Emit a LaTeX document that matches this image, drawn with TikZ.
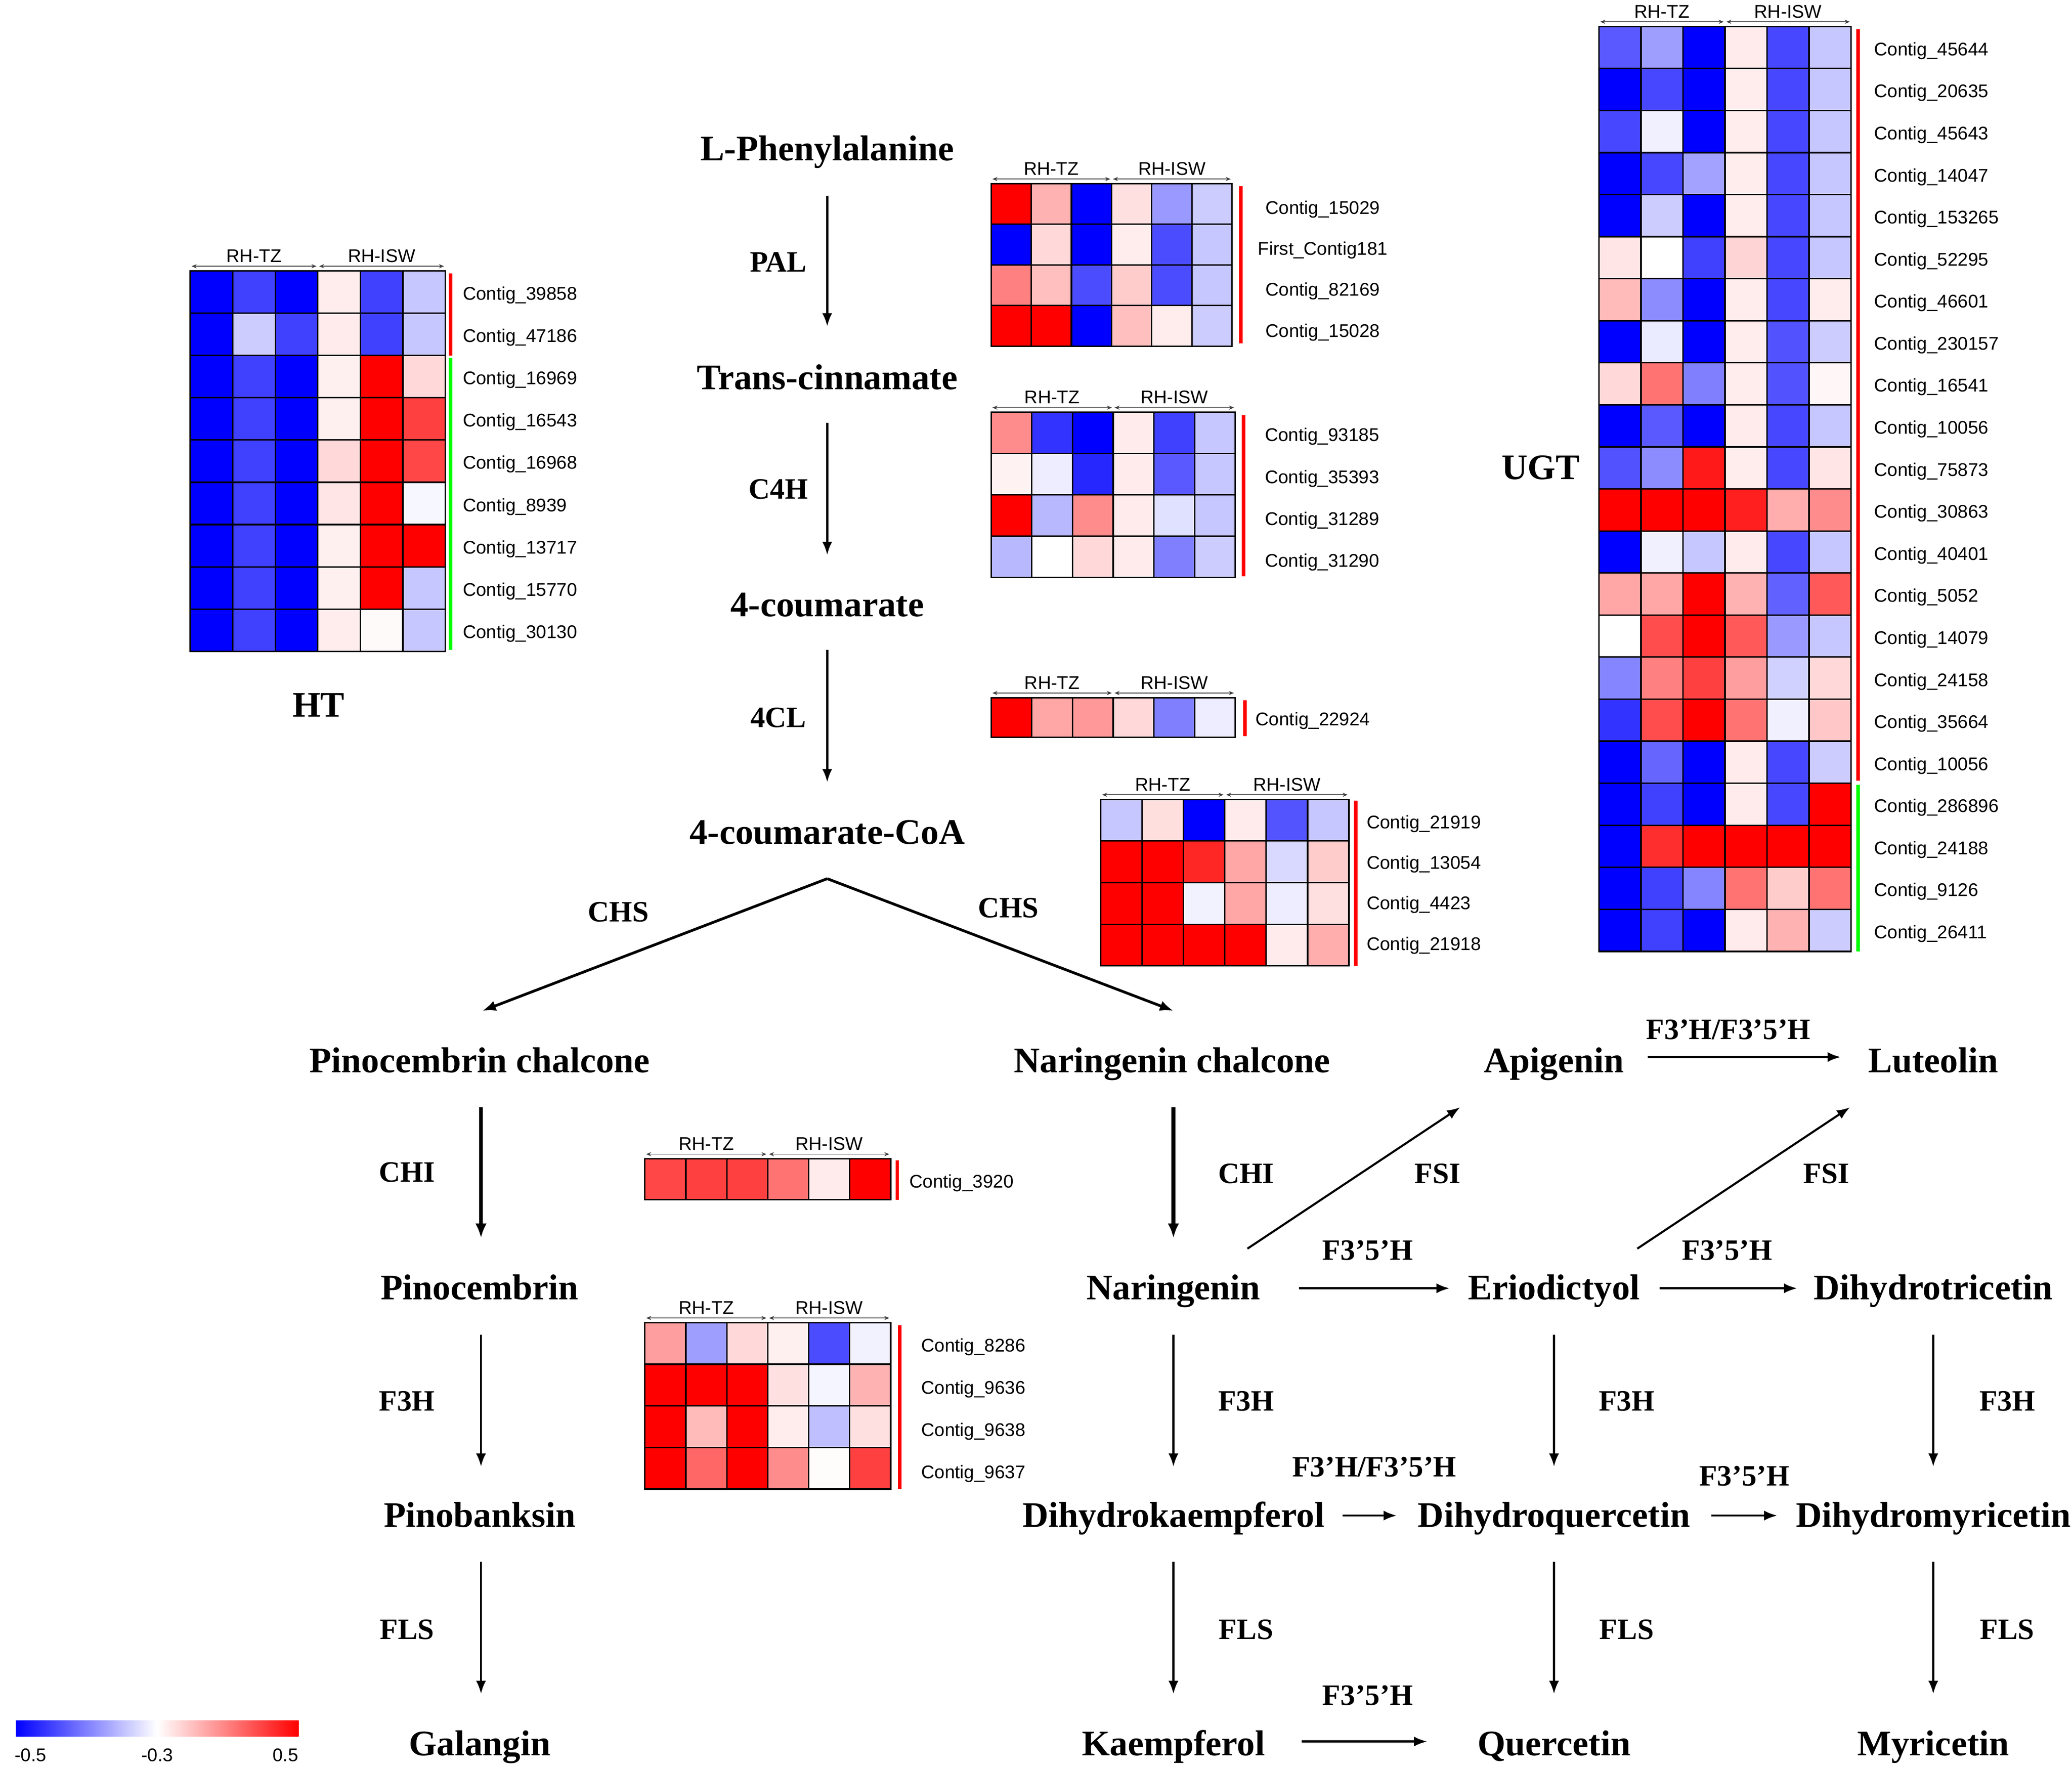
\documentclass[tikz,border=0pt]{standalone}
\usepackage{fontspec}
\setmainfont{Liberation Serif}
\newfontfamily\arialf{Liberation Sans}
\usetikzlibrary{arrows.meta,calc}
\newcommand\hmap[5]{%
 \foreach \hmrow [count=\hmi] in {#5} {
   \foreach \hmv [count=\hmj] in \hmrow {
     \pgfmathtruncatemacro\hma{abs(\hmv)}
     \ifnum\hmv<0 \def\hmc{blue!\hma!white}\else\def\hmc{red!\hma!white}\fi
     \filldraw[fill=\hmc,draw=black,line width=0.9pt] ({#1+(\hmj-1)*#3},{#2+(\hmi-1)*#4}) rectangle ++(#3,#4);
   }
 }
 \draw[hdr] (#1+1,#2-3.5) -- (#1+3*#3-1,#2-3.5);
 \draw[hdr] (#1+3*#3+1,#2-3.5) -- (#1+6*#3-1,#2-3.5);
 \node[hdl] at (#1+1.5*#3,#2-11.5) {RH-TZ};
 \node[hdl] at (#1+4.5*#3,#2-11.5) {RH-ISW};
}
\tikzset{
 cpd/.style={font=\bfseries\fontsize{22.5}{26}\selectfont, inner sep=0pt, text height=19pt, text depth=4.7pt},
 enz/.style={font=\bfseries\fontsize{18.5}{22}\selectfont, inner sep=0pt, text height=12.5pt, text depth=0pt},
 lab/.style={font=\arialf\fontsize{11.5}{13}\selectfont, inner sep=0pt, anchor=west, text height=10pt, text depth=0pt},
 labc/.style={lab, anchor=center},
 hdl/.style={font=\arialf\fontsize{11.5}{13}\selectfont, inner sep=0pt, text height=8.3pt, text depth=0pt},
 hdr/.style={{Stealth[length=1.1mm,width=0.9mm]}-{Stealth[length=1.1mm,width=0.9mm]}, line width=0.5pt, draw=black!75},
 arr/.style={-{Latex[length=2.9mm,width=2.2mm]}, line width=1.3pt},
 brarr/.style={-{Latex[length=3mm,width=2.3mm]}, line width=1.7pt},
 tharr/.style={-{Latex[length=3.2mm,width=2.5mm]}, line width=2.4pt},
 rbar/.style={draw=red, line width=2.2pt},
 gbar/.style={draw=green, line width=2.2pt},
}
\begin{document}
\begin{tikzpicture}[x=0.02909cm,y=-0.02909cm]
\useasboundingbox[fill=white] (0,0) rectangle (1568,1337.8);

% ---------- pathway compounds ----------
\node[cpd] (phe) at (626,113) {L-Phenylalanine};
\node[cpd] (cin) at (626,286) {Trans-cinnamate};
\node[cpd] (cou) at (626,458) {4-coumarate};
\node[cpd] (coa) at (626,630) {4-coumarate-CoA};
\node[cpd] (pch) at (363,803) {Pinocembrin chalcone};
\node[cpd] (nch) at (887,803) {Naringenin chalcone};
\node[cpd] (api) at (1176,803) {Apigenin};
\node[cpd] (lut) at (1463,803) {Luteolin};
\node[cpd] (pin) at (363,975) {Pinocembrin};
\node[cpd] (nar) at (888,975) {Naringenin};
\node[cpd] (eri) at (1176,975) {Eriodictyol};
\node[cpd] (dht) at (1463,975) {Dihydrotricetin};
\node[cpd] (pba) at (363,1147) {Pinobanksin};
\node[cpd] (dhk) at (888,1147) {Dihydrokaempferol};
\node[cpd] (dhq) at (1176,1147) {Dihydroquercetin};
\node[cpd] (dhm) at (1463,1147) {Dihydromyricetin};
\node[cpd] (gal) at (363,1320) {Galangin};
\node[cpd] (kae) at (888,1320) {Kaempferol};
\node[cpd] (que) at (1176,1320) {Quercetin};
\node[cpd] (myr) at (1463,1320) {Myricetin};
\node[cpd] (htl) at (241,534) {HT};
\node[cpd] (ugtl) at (1166,354) {UGT};

% ---------- enzymes ----------
\node[enz] (e1) at (589,198) {PAL};
\node[enz] (e2) at (589,370) {C4H};
\node[enz] (e3) at (589,543) {4CL};
\node[enz] (e4) at (468,690) {CHS};
\node[enz] (e5) at (763,687) {CHS};
\node[enz] (e6) at (1308,779) {F3’H/F3’5’H};
\node[enz] (e7) at (308,887) {CHI};
\node[enz] (e8) at (943,888) {CHI};
\node[enz] (e9) at (1088,888) {FSI};
\node[enz] (e10) at (1382,888) {FSI};
\node[enz] (e11) at (1035,946) {F3’5’H};
\node[enz] (e12) at (1307,946) {F3’5’H};
\node[enz] (e13) at (308,1060) {F3H};
\node[enz] (e14) at (943,1060) {F3H};
\node[enz] (e15) at (1231,1060) {F3H};
\node[enz] (e16) at (1519,1060) {F3H};
\node[enz] (e17) at (1040,1110) {F3’H/F3’5’H};
\node[enz] (e18) at (1320,1117) {F3’5’H};
\node[enz] (e19) at (308,1233) {FLS};
\node[enz] (e20) at (943,1233) {FLS};
\node[enz] (e21) at (1231,1233) {FLS};
\node[enz] (e22) at (1519,1233) {FLS};
\node[enz] (e23) at (1035,1283) {F3’5’H};

% ---------- arrows ----------
\draw[arr] ($(phe)+(0,35)$) -- ($(cin)+(0,-39)$);
\draw[arr] ($(cin)+(0,34)$) -- ($(cou)+(0,-38)$);
\draw[arr] ($(cou)+(0,34)$) -- ($(coa)+(0,-38)$);
\draw[brarr] ($(coa)+(0,35)$) -- ($(pch)+(2,-38)$);
\draw[brarr] ($(coa)+(0,35)$) -- ($(nch)+(1,-38)$);
\draw[tharr] ($(pch)+(1,35)$) -- ($(pin)+(1,-38)$);
\draw[tharr] ($(nch)+(1,35)$) -- ($(nar)+(0,-38)$);
\draw[arr] ($(pin)+(1,35)$) -- ($(pba)+(1,-37)$);
\draw[arr] ($(pba)+(1,35)$) -- ($(gal)+(1,-38)$);
\draw[arr] ($(nar)+(0,35)$) -- ($(dhk)+(0,-37)$);
\draw[arr] ($(dhk)+(0,35)$) -- ($(kae)+(0,-38)$);
\draw[arr] ($(eri)+(0,35)$) -- ($(dhq)+(0,-37)$);
\draw[arr] ($(dhq)+(0,35)$) -- ($(que)+(0,-38)$);
\draw[arr] ($(dht)+(0,35)$) -- ($(dhm)+(0,-37)$);
\draw[arr] ($(dhm)+(0,35)$) -- ($(myr)+(0,-38)$);
\draw[arr] ($(nar)+(56,-30)$) -- ($(api)+(-71,35)$);
\draw[arr] ($(eri)+(63,-30)$) -- ($(lut)+(-63,35)$);
\draw[arr] ($(api)+(71,-3)$) -- ($(lut)+(-70,-3)$);
\draw[arr] ($(nar)+(95,0)$) -- ($(eri)+(-79,0)$);
\draw[arr] ($(eri)+(80,0)$) -- ($(dht)+(-103,0)$);
\draw[arr] ($(dhk)+(128,0)$) -- ($(dhq)+(-119,0)$);
\draw[arr] ($(dhq)+(119,0)$) -- ($(dhm)+(-118,0)$);
\draw[arr] ($(kae)+(97,-2)$) -- ($(que)+(-96,-2)$);

% ---------- HT heatmap ----------
\hmap{144}{205}{32.17}{32}{
{-100,-75,-100,7,-75,-22},
{-100,-20,-75,8,-75,-22},
{-100,-75,-100,6,100,15},
{-100,-75,-100,6,100,75},
{-100,-75,-100,15,100,72},
{-100,-75,-100,10,100,-3},
{-100,-75,-100,6,100,100},
{-100,-75,-100,6,100,-22},
{-100,-75,-100,7,2,-22}}
\draw[rbar] (341,207) -- (341,269);
\draw[gbar] (341,271) -- (341,492);
\foreach \t [count=\k from 0] in {39858,47186,16969,16543,16968,8939,13717,15770,30130}
  \node[lab] (ht\k) at (350,221+32*\k) {Contig\_\t};

% ---------- PAL heatmap ----------
\hmap{750}{139}{30.4}{30.75}{
{100,30,-100,12,-40,-20},
{-100,15,-100,7,-70,-22},
{50,25,-70,20,-70,-22},
{100,100,-100,25,7,-20}}
\draw[rbar] (939,141) -- (939,260);
\node[labc] (pal1) at (1001,156) {Contig\_15029};
\node[labc] (pal2) at (1001,187) {First\_Contig181};
\node[labc] (pal3) at (1001,218) {Contig\_82169};
\node[labc] (pal4) at (1001,249) {Contig\_15028};

% ---------- C4H heatmap ----------
\hmap{750}{312}{30.8}{31.25}{
{45,-80,-100,8,-75,-22},
{5,-7,-85,8,-65,-22},
{100,-28,45,8,-12,-22},
{-28,0,15,8,-50,-20}}
\draw[rbar] (941,314) -- (941,436);
\foreach \t [count=\k from 0] in {93185,35393,31289,31290}
  \node[lab] (c4h\k) at (957,328+31.7*\k) {Contig\_\t};

% ---------- 4CL heatmap ----------
\hmap{750}{528}{30.8}{30}{{100,35,40,15,-50,-7}}
\draw[rbar] (942,530) -- (942,557);
\node[lab] (fcl) at (950,543) {Contig\_22924};

% ---------- CHS heatmap ----------
\hmap{833}{605}{31.3}{31.5}{
{-22,13,-100,8,-67,-22},
{100,100,85,35,-15,20},
{100,100,-5,35,-7,12},
{100,100,100,100,8,32}}
\draw[rbar] (1026,606) -- (1026,731);
\foreach \t [count=\k from 0] in {21919,13054,4423,21918}
  \node[lab] (chs\k) at (1034,621+30.7*\k) {Contig\_\t};

% ---------- UGT heatmap ----------
\hmap{1210}{20}{31.8}{31.82}{
{-65,-38,-100,8,-72,-22},
{-100,-72,-100,7,-72,-22},
{-72,-6,-100,7,-72,-22},
{-100,-72,-36,7,-72,-22},
{-100,-20,-100,7,-72,-22},
{10,0,-75,17,-72,-22},
{27,-45,-100,7,-72,7},
{-100,-8,-100,7,-68,-20},
{15,55,-50,7,-68,3},
{-100,-65,-100,8,-72,-22},
{-68,-45,90,7,-72,10},
{100,100,100,88,32,45},
{-100,-6,-22,8,-72,-22},
{35,35,100,30,-62,65},
{0,70,100,65,-40,-22},
{-48,50,75,38,-18,15},
{-80,70,100,55,-6,22},
{-100,-60,-100,8,-72,-20},
{-100,-75,-100,8,-72,100},
{-100,82,100,100,100,100},
{-100,-75,-48,55,20,55},
{-100,-75,-100,8,30,-20}}
\draw[rbar] (1406,22) -- (1406,591);
\draw[gbar] (1406,594) -- (1406,720);
\foreach \t [count=\k from 0] in {45644,20635,45643,14047,153265,52295,46601,230157,16541,10056,75873,30863,40401,5052,14079,24158,35664,10056,286896,24188,9126,26411}
  \node[lab] (ugt\k) at (1418,36+31.82*\k) {Contig\_\t};

% ---------- CHI heatmap ----------
\hmap{488}{877}{31}{31}{{72,75,75,55,8,100}}
\draw[rbar] (679,878) -- (679,908);
\node[lab] (chi1) at (688,893) {Contig\_3920};

% ---------- F3H heatmap ----------
\hmap{488}{1001}{31}{31.5}{
{38,-38,15,6,-70,-5},
{100,100,100,12,-4,30},
{100,27,100,7,-25,12},
{100,60,100,45,1,75}}
\draw[rbar] (681,1003) -- (681,1127);
\foreach \t [count=\k from 0] in {8286,9636,9638,9637}
  \node[lab] (f3h\k) at (697,1017+32*\k) {Contig\_\t};

% ---------- colour key ----------
\shade[left color=blue,right color=red,middle color=white] (12,1302) rectangle (226,1314);
\node[hdl] (k1) at (23,1328) {-0.5};
\node[hdl] (k2) at (119,1328) {-0.3};
\node[hdl] (k3) at (216,1328) {0.5};
\end{tikzpicture}
\end{document}
